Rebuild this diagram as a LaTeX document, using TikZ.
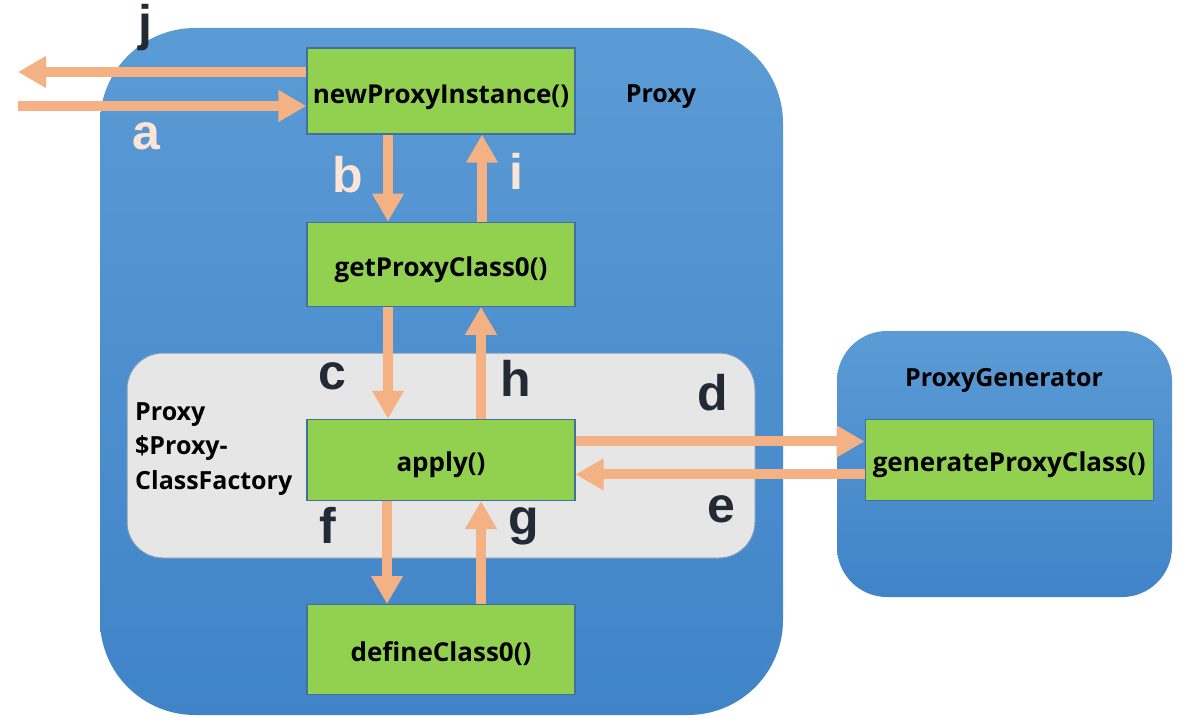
\documentclass[tikz,border=0pt]{standalone}
\usepackage{fontspec}
\setmainfont{Open Sans}
\newfontfamily\letterfont{Liberation Sans}
\usepackage{xcolor}
\usetikzlibrary{arrows.meta, positioning}
\definecolor{panelblue}{RGB}{91,155,213}
\definecolor{paneldeep}{RGB}{64,132,200}
\definecolor{boxgreen}{RGB}{146,208,80}
\definecolor{boxedge}{RGB}{65,113,156}
\definecolor{factorygray}{RGB}{231,230,230}
\definecolor{flowpeach}{RGB}{244,177,131}
\definecolor{letterdark}{RGB}{34,42,53}
\definecolor{letterlight}{RGB}{251,229,214}

\begin{document}
\begin{tikzpicture}[
    x=1pt, y=-1pt,
    panel/.style={rectangle, rounded corners=#1, top color=panelblue, bottom color=paneldeep, draw=none, inner sep=0pt},
    factory/.style={rectangle, rounded corners=36pt, fill=factorygray, draw=boxedge!70, line width=1pt, inner sep=0pt},
    methodbox/.style={rectangle, draw=boxedge, line width=1.2pt, fill=boxgreen, minimum width=268pt, inner sep=0pt, text height=24pt, text depth=0pt, font=\bfseries\fontsize{26}{30}\selectfont},
    title/.style={inner sep=0pt, font=\bfseries\fontsize{25}{34.5}\selectfont},
    flow/.style={draw=flowpeach, line width=10pt, -{Triangle[width=30pt,length=28pt]}},
    steplabel/.style={inner sep=0pt, text=letterdark, font=\letterfont\bfseries\fontsize{50}{50}\selectfont}
]
\useasboundingbox (0,0) rectangle (1193,725);

% containers
\node[panel=95pt, minimum width=683pt, minimum height=687pt] (proxy) at (441.5,371.5) {};
\node[panel=50pt, minimum width=335pt, minimum height=266pt] (gencase) at (1004.5,464) {};
\node[factory, minimum width=628pt, minimum height=205pt] (factory) at (441,455.5) {};

\node[title] at (661,97) {Proxy};
\node[title] at (1004,380) {ProxyGenerator};
\node[title, align=left, anchor=north west] at (135,402) {Proxy\\\$Proxy-\\ClassFactory};

% methods
\node[methodbox, minimum height=86pt] (npi) at (441,91) {newProxyInstance()};
\node[methodbox, minimum height=84pt, below=87pt of npi] (gpc) {getProxyClass0()};
\node[methodbox, minimum height=81pt, below=112pt of gpc] (apply) {apply()};
\node[methodbox, minimum height=90pt, below=103pt of apply] (def) {defineClass0()};
\node[methodbox, minimum width=288pt, minimum height=81pt, right=289pt of apply] (gen) {generateProxyClass()};

% calls
\coordinate (jend) at (18,72);
\coordinate (astart) at (18,106);
\draw[flow] ([yshift=19pt]npi.west) -- (jend);
\draw[flow] (astart) -- ([yshift=-15pt]npi.west);
\draw[flow] ([xshift=-53pt]npi.south) -- ([xshift=-53pt]gpc.north);
\draw[flow] ([xshift=41pt]gpc.north) -- ([xshift=41pt]npi.south);
\draw[flow] ([xshift=-53pt]gpc.south) -- ([xshift=-53pt]apply.north);
\draw[flow] ([xshift=40pt]apply.north) -- ([xshift=40pt]gpc.south);
\draw[flow] ([xshift=-54pt]apply.south) -- ([xshift=-54pt]def.north);
\draw[flow] ([xshift=40pt]def.north) -- ([xshift=40pt]apply.south);
\draw[flow] ([yshift=18.5pt]apply.east) -- ([yshift=18.5pt]gen.west);
\draw[flow] ([yshift=-14.5pt]gen.west) -- ([yshift=-14.5pt]apply.east);

% step letters
\node[steplabel] at (145,28) {j};
\node[steplabel, text=letterlight] at (146,136) {a};
\node[steplabel, text=letterlight] at (348,175) {b};
\node[steplabel, text=letterlight] at (516,171) {i};
\node[steplabel] at (332,376) {c};
\node[steplabel] at (516,378) {h};
\node[steplabel] at (713,393) {d};
\node[steplabel] at (721,509) {e};
\node[steplabel] at (328,525) {f};
\node[steplabel] at (524,526) {g};

\end{tikzpicture}
\end{document}
